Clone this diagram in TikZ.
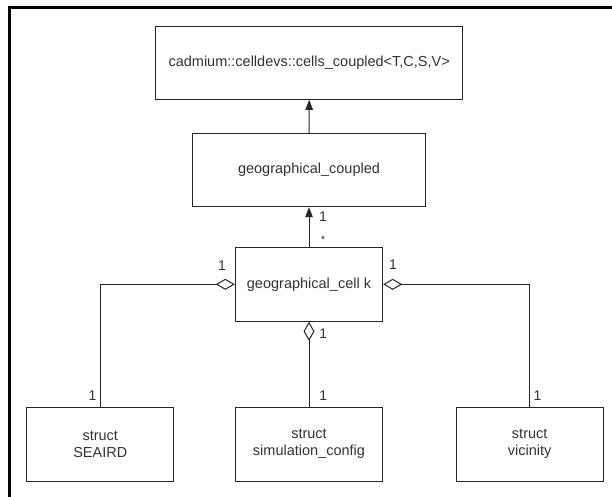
\documentclass[tikz,border=0pt]{standalone}
\usepackage{fontspec}
\setmainfont{Liberation Sans}
\usetikzlibrary{arrows.meta}
\begin{document}
\begin{tikzpicture}[x=1pt,y=-1pt,
  box/.style={draw=black!85,line width=1pt,rectangle,inner sep=0pt,text=black!80,
    font=\fontsize{14.5}{17}\selectfont,align=center},
  lbl/.style={inner sep=0pt,text=black!80,font=\fontsize{14}{16}\selectfont},
  gen/.style={draw=black!85,line width=1pt,-{Triangle[length=10pt,width=7.5pt]}},
  agg/.style={draw=black!85,line width=1pt,{Diamond[open,length=19pt,width=11pt]}-}]
\useasboundingbox (0,0) rectangle (612,496);
\draw[line width=2.5pt] (9.5,7.5) rectangle (640,520);
\node[box,minimum width=307pt,minimum height=73.3pt] (top) at (309.2,62.7) {cadmium::celldevs::cells\_coupled<T,C,S,V>};
\node[box,minimum width=233.4pt,minimum height=73.4pt] (gc) at (309,170) {geographical\_coupled};
\node[box,minimum width=147.4pt,minimum height=74pt] (cell) at (309,284.3) {geographical\_cell k};
\node[box,minimum width=147.3pt,minimum height=73.7pt] (seaird) at (100.3,444.2) {struct\\SEAIRD};
\node[box,minimum width=147.3pt,minimum height=73.7pt] (sim) at (309,444.2) {struct\\simulation\_config};
\node[box,minimum width=147.3pt,minimum height=73.7pt] (vic) at (529.7,444.2) {struct\\vicinity};
\draw[gen] (gc.north) -- (top.south);
\draw[gen] (cell.north) -- (gc.south);
\draw[agg] (cell.west) -| (seaird.north);
\draw[agg] (cell.east) -| (vic.north);
\draw[agg] (cell.south) -- (sim.north);
\node[lbl] (l1) at (323,216.5) {1};
\node[lbl,font=\fontsize{11}{12}\selectfont] (l2) at (323,240) {*};
\node[lbl] (l3) at (222,266) {1};
\node[lbl] (l4) at (393,265) {1};
\node[lbl] (l5) at (323.3,333.3) {1};
\node[lbl] (l6) at (323.3,395.7) {1};
\node[lbl] (l7) at (92.5,395.7) {1};
\node[lbl] (l8) at (537.5,395.7) {1};
\end{tikzpicture}
\end{document}
